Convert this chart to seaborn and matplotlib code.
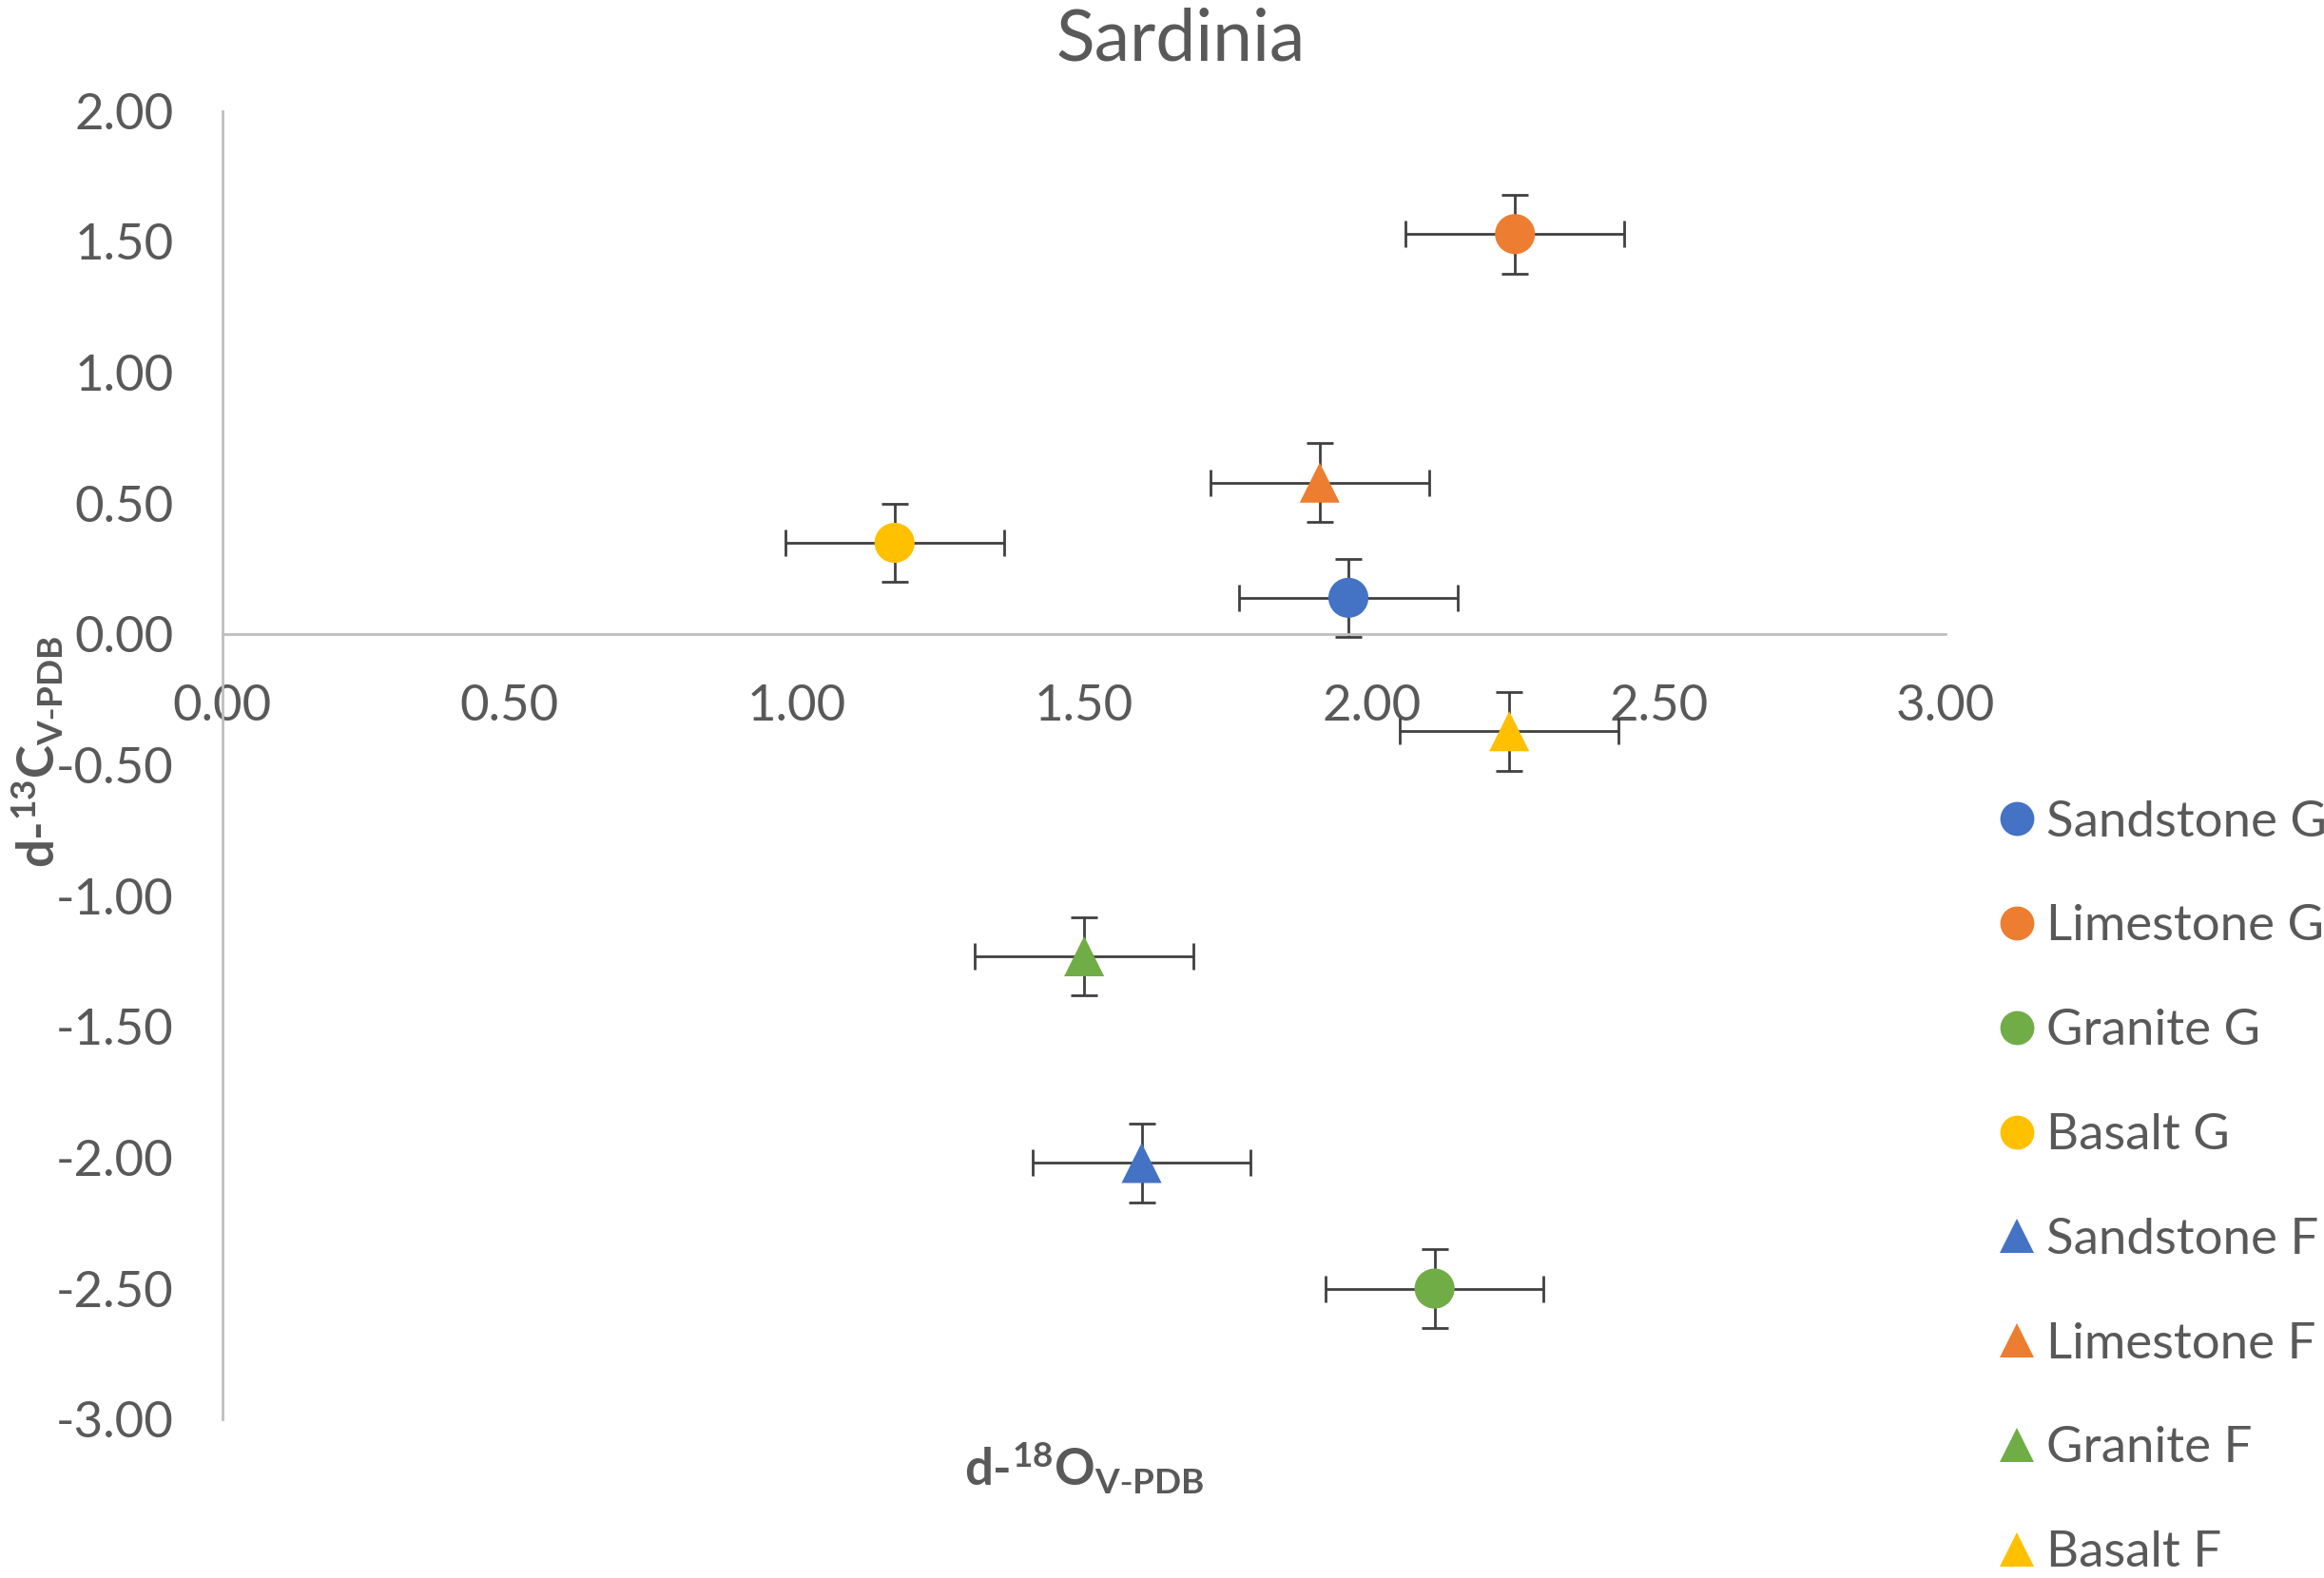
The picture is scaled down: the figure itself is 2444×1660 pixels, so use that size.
import numpy as np
import pandas as pd
import seaborn as sns
import matplotlib.pyplot as plt
from matplotlib.ticker import StrMethodFormatter

# data
samples = ['Sandstone G', 'Limestone G', 'Granite G', 'Basalt G',
           'Sandstone F', 'Limestone F', 'Granite F', 'Basalt F']
d18o = [1.96, 2.25, 2.11, 1.17, 1.60, 1.91, 1.50, 2.24]
d13c = [0.14, 1.53, -2.50, 0.35, -2.02, 0.58, -1.23, -0.37]
err_x = [0.19, 0.19, 0.19, 0.19, 0.19, 0.19, 0.19, 0.19]
err_y = [0.15, 0.15, 0.15, 0.15, 0.15, 0.15, 0.15, 0.15]

colors = ['#4472C4', '#ED7D31', '#70AD47', '#FFC000',
          '#4472C4', '#ED7D31', '#70AD47', '#FFC000']
shapes = ['o', 'o', 'o', 'o', '^', '^', '^', '^']

df = pd.DataFrame({'sample': samples, 'd18O': d18o, 'd13C': d13c})

sns.set_style('white')
plt.rcParams['font.family'] = ['Lato', 'DejaVu Sans']
plt.rcParams['mathtext.default'] = 'regular'
plt.rcParams['axes.unicode_minus'] = False

txt = '#595959'
axis_col = '#BFBFBF'

fig = plt.figure(figsize=(12.22, 8.30), dpi=200)
ax = fig.add_axes([0.0957, 0.1005, 0.7416, 0.8291])

ax.errorbar(df['d18O'], df['d13C'], xerr=err_x, yerr=err_y, fmt='none',
            ecolor='#404040', elinewidth=1.0, capsize=5.2, capthick=1.0, zorder=2)

sns.scatterplot(data=df, x='d18O', y='d13C', hue='sample', style='sample',
                hue_order=samples, style_order=samples,
                palette=dict(zip(samples, colors)),
                markers=dict(zip(samples, shapes)),
                s=230, linewidth=0, zorder=3, ax=ax)

ax.set_xlim(0, 3)
ax.set_ylim(-3, 2)
ax.set_xticks(np.arange(0, 3.01, 0.5))
ax.set_yticks(np.arange(-3, 2.01, 0.5))
ax.xaxis.set_major_formatter(StrMethodFormatter('{x:.2f}'))
ax.yaxis.set_major_formatter(StrMethodFormatter('{x:.2f}'))
ax.tick_params(axis='both', length=0, labelsize=19, labelcolor=txt)
ax.tick_params(axis='x', pad=19)
ax.tick_params(axis='y', pad=18.5)

for side in ['top', 'right']:
    ax.spines[side].set_visible(False)
ax.spines['left'].set_position(('data', 0))
ax.spines['bottom'].set_position(('data', 0))
for side in ['left', 'bottom']:
    ax.spines[side].set_color(axis_col)
    ax.spines[side].set_linewidth(1.0)

ax.set_xlabel(r'd-$^{18}$O$_{V\text{-}PDB}$', fontsize=19, fontweight='bold', color=txt)
ax.set_ylabel(r'd-$^{13}$C$_{V\text{-}PDB}$', fontsize=19, fontweight='bold', color=txt)
ax.xaxis.set_label_coords(0.5, -0.016)
ax.yaxis.set_label_coords(-0.091, 0.51)

fig.text(0.508, 0.962, 'Sardinia', ha='center', va='baseline', fontsize=27, color=txt)

leg = ax.legend(loc='upper left', bbox_to_anchor=(0.859, 0.493),
                bbox_transform=fig.transFigure, frameon=False, fontsize=19,
                labelspacing=1.19, handletextpad=0.2, handlelength=0.8,
                markerscale=0.85, borderpad=0, borderaxespad=0)
for t in leg.get_texts():
    t.set_color(txt)

fig.savefig('out.png', dpi=200)
